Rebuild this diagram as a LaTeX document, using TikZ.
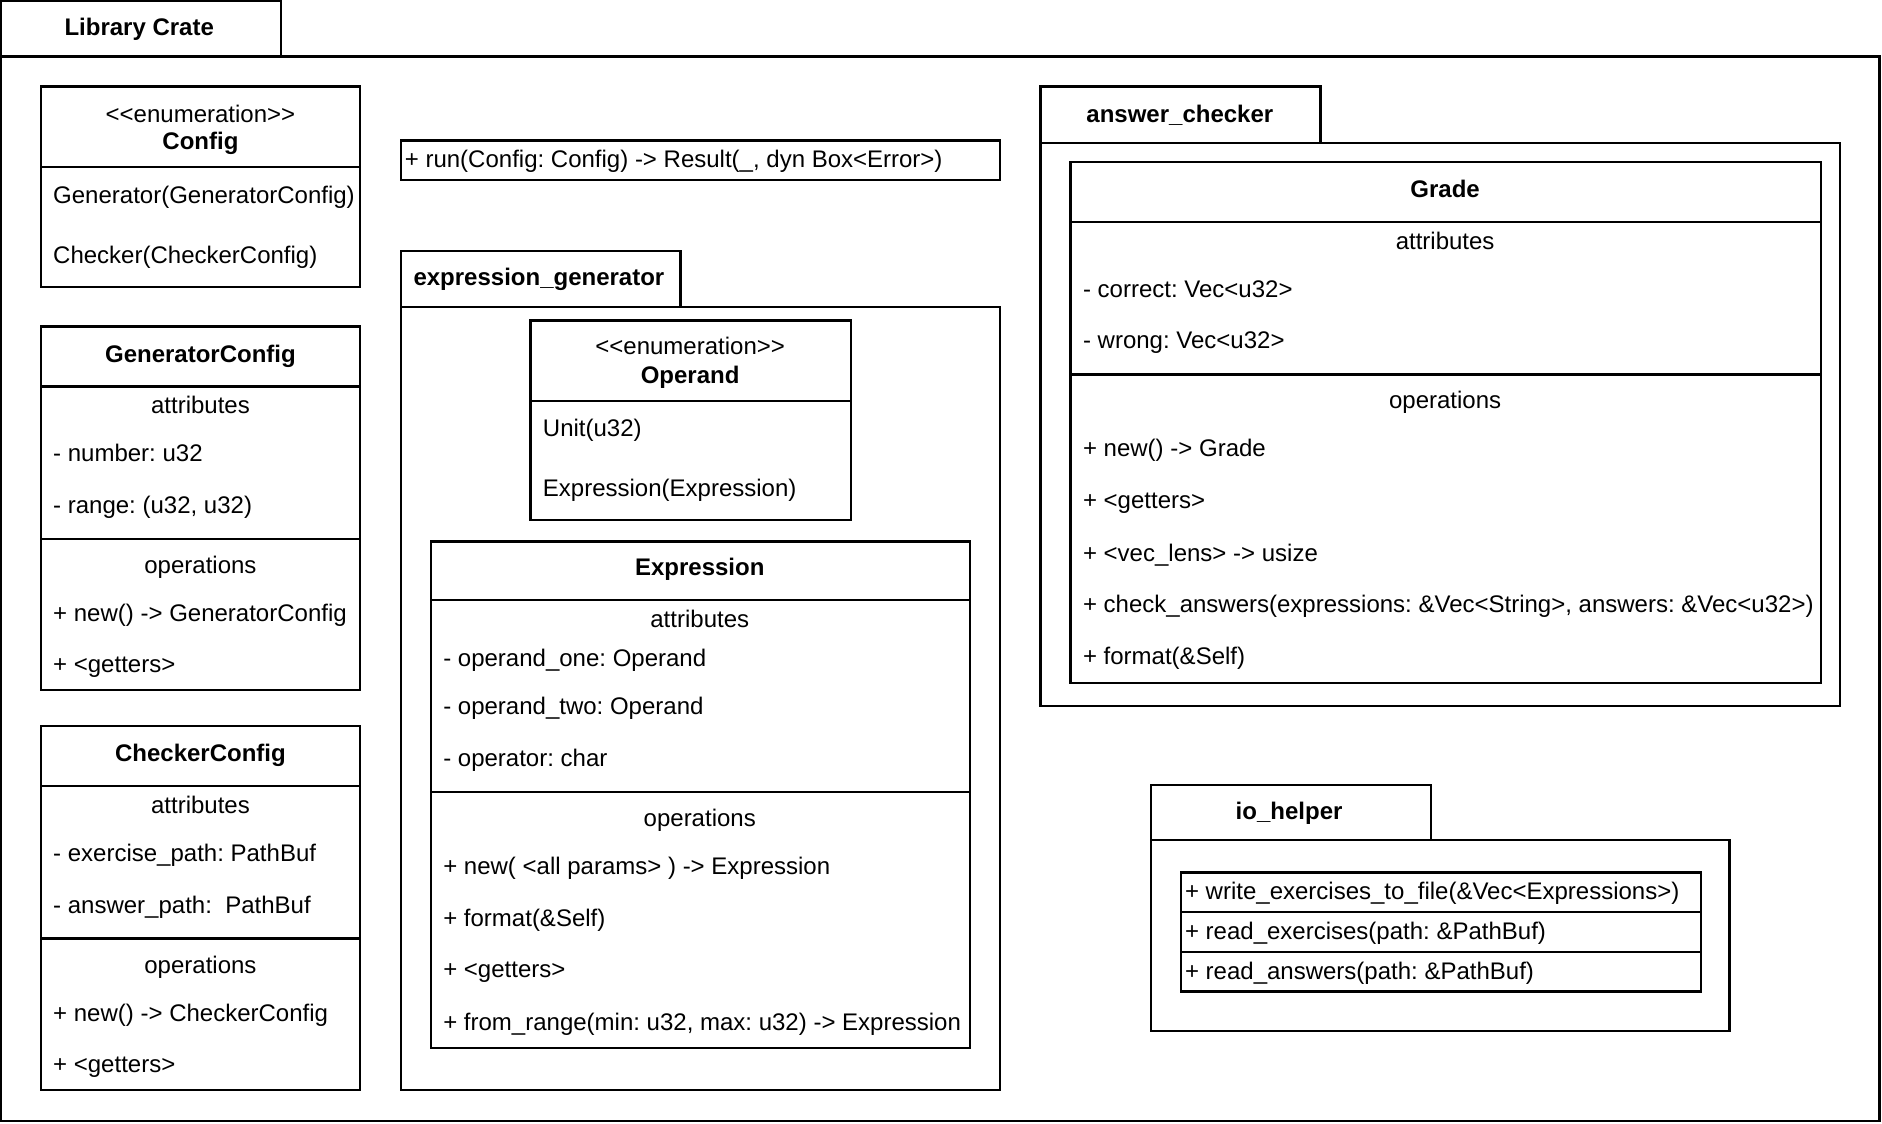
\documentclass[tikz,border=0pt]{standalone}
\usepackage{fontspec}
\setmainfont{Liberation Sans}
\newcommand{\umlsize}{\fontsize{12pt}{14pt}\selectfont\frenchspacing}

\begin{document}
\begin{tikzpicture}[x=0.6pt,y=-0.6pt,font=\umlsize,
    box/.style={draw,line width=1.2pt},
    lbl/.style={inner sep=0pt,text height=0.9em,text depth=0.1em},
    item/.style={lbl,anchor=west},
    title/.style={lbl,font=\umlsize\bfseries}]
  \useasboundingbox (0,0) rectangle (1568,936);
  % Library Crate
  \draw[box] (1,1) rectangle (234,47);
  \draw[box] (1,47) rectangle (1566,934);
  \node[title] (crate) at (116,23) {Library Crate};

  % Config
  \draw[box] (34,72) rectangle (300,239);
  \draw[box] (34,139) -- (300,139);
  \node[lbl] (cfgstereo) at (167,95) {<{}<enumeration>{}>};
  \node[title] (cfgname) at (167,118) {Config};
  \node[item] (cfggen) at (44,163) {Generator(GeneratorConfig)};
  \node[item] (cfgchk) at (44,213) {Checker(CheckerConfig)};

  % GeneratorConfig
  \draw[box] (34,272) rectangle (300,575);
  \draw[box] (34,322) -- (300,322);
  \draw[box] (34,449) -- (300,449);
  \node[title] (gcname) at (167,295) {GeneratorConfig};
  \node[lbl] (gcattr) at (167,338) {attributes};
  \node[lbl] (gcops) at (167,471) {operations};
  \foreach \y/\t [count=\i] in {378/- number: u32, 421/{- range: (u32, u32)},
      511/+ new() -> GeneratorConfig, 554/+ <getters>}
    \node[item] (gc\i) at (44,\y) {\t};

  % CheckerConfig
  \draw[box] (34,605) rectangle (300,908);
  \draw[box] (34,655) -- (300,655);
  \draw[box] (34,782) -- (300,782);
  \node[title] (ccname) at (167,628) {CheckerConfig};
  \node[lbl] (ccattr) at (167,671) {attributes};
  \node[lbl] (ccops) at (167,804) {operations};
  \foreach \y/\t [count=\i] in {711/- exercise\_path: PathBuf, 754/- answer\_path:~ PathBuf,
      844/+ new() -> CheckerConfig, 887/+ <getters>}
    \node[item] (cc\i) at (44,\y) {\t};

  % run
  \draw[box] (334,117) rectangle (833,150);
  \node[item] (run) at (337,133) {+ run(Config: Config) -> Result(\_, dyn Box<Error>)};

  % expression_generator
  \draw[box] (334,209) rectangle (567,256);
  \draw[box] (334,256) rectangle (833,908);
  \node[title] (exgen) at (449,231) {expression\_generator};

  % Operand
  \draw[box] (442,267) rectangle (709,433);
  \draw[box] (442,334) -- (709,334);
  \node[lbl] (opstereo) at (575,289) {<{}<enumeration>{}>};
  \node[title] (opname) at (575,313) {Operand};
  \node[item] (opunit) at (452,357) {Unit(u32)};
  \node[item] (opexpr) at (452,407) {Expression(Expression)};

  % Expression
  \draw[box] (359,451) rectangle (808,873);
  \draw[box] (359,500) -- (808,500);
  \draw[box] (359,660) -- (808,660);
  \node[title] (exname) at (583,473) {Expression};
  \node[lbl] (exattr) at (583,516) {attributes};
  \node[lbl] (exops) at (583,682) {operations};
  \foreach \y/\t [count=\i] in {549/- operand\_one: Operand, 589/- operand\_two: Operand,
      632/- operator: char, 722/+ new( <all params> ) -> Expression,
      765/+ format(\&Self), 808/+ <getters>,
      852/{+ from\_range(min: u32, max: u32) -> Expression}}
    \node[item] (ex\i) at (369,\y) {\t};

  % answer_checker
  \draw[box] (867,72) rectangle (1100,119);
  \draw[box] (867,119) rectangle (1533,588);
  \node[title] (anchk) at (983,95) {answer\_checker};

  % Grade
  \draw[box] (892,135) rectangle (1517,569);
  \draw[box] (892,185) -- (1517,185);
  \draw[box] (892,312) -- (1517,312);
  \node[title] (grname) at (1204,158) {Grade};
  \node[lbl] (grattr) at (1204,201) {attributes};
  \node[lbl] (grops) at (1204,334) {operations};
  \foreach \y/\t [count=\i] in {241/- correct: Vec<u32>, 284/- wrong: Vec<u32>,
      374/+ new() -> Grade, 417/+ <getters>, 461/+ <vec\_lens> -> usize,
      504/{+ check\_answers(expressions: \&Vec<String>, answers: \&Vec<u32>)},
      547/+ format(\&Self)}
    \node[item] (gr\i) at (902,\y) {\t};

  % io_helper
  \draw[box] (959,654) rectangle (1192,700);
  \draw[box] (959,700) rectangle (1441,859);
  \node[title] (iohelp) at (1074,676) {io\_helper};
  \draw[box] (984,727) rectangle (1417,826);
  \draw[box] (984,760) -- (1417,760);
  \draw[box] (984,793) -- (1417,793);
  \foreach \y/\t [count=\i] in {743/+ write\_exercises\_to\_file(\&Vec<Expressions>),
      776/+ read\_exercises(path: \&PathBuf), 809/+ read\_answers(path: \&PathBuf)}
    \node[item] (io\i) at (987,\y) {\t};
\end{tikzpicture}
\end{document}
